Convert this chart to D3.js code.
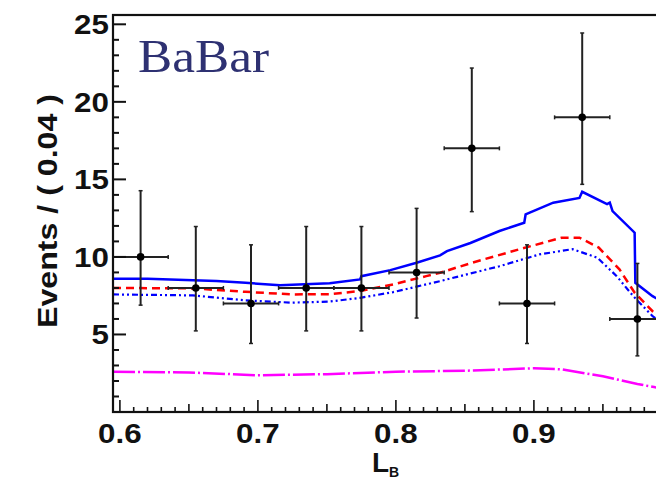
<!DOCTYPE html>
<html>
<head>
<meta charset="utf-8">
<script src="https://cdn.jsdelivr.net/npm/d3@7/dist/d3.min.js"></script>
<style>
  html, body { margin: 0; padding: 0; background: #fff; }
  svg { display: block; }
</style>
</head>
<body>
<script>
// ---- data ----
const binCenters = [0.615, 0.655, 0.695, 0.735, 0.775, 0.815, 0.855, 0.895, 0.935, 0.975];
const binHalfWidth = 0.02;
const counts = [10, 8, 7, 8, 8, 9, 17, 7, 19, 6];
const errLow = [3.11, 2.77, 2.58, 2.77, 2.77, 2.94, 4.08, 2.58, 4.32, 2.38];
const errHigh = [4.27, 3.96, 3.78, 3.96, 3.96, 4.13, 5.18, 3.78, 5.44, 3.58];

const totalX = [0.595, 0.62, 0.653, 0.67, 0.691, 0.716, 0.752, 0.774, 0.775, 0.796, 0.815, 0.832, 0.837, 0.854, 0.875, 0.893, 0.894, 0.914, 0.933, 0.935, 0.953, 0.955, 0.957, 0.973, 0.9735, 0.986, 0.995];
const totalY = [8.6, 8.6, 8.5, 8.45, 8.33, 8.18, 8.3, 8.55, 8.76, 9.15, 9.62, 10.1, 10.37, 10.9, 11.67, 12.2, 12.74, 13.5, 13.8, 14.2, 13.4, 13.5, 12.96, 11.56, 8.33, 7.47, 7.0];

const redX = [0.595, 0.653, 0.691, 0.725, 0.752, 0.774, 0.798, 0.822, 0.832, 0.855, 0.889, 0.92, 0.933, 0.947, 0.962, 0.973, 0.986, 0.995];
const redY = [8.0, 7.97, 7.75, 7.58, 7.6, 7.8, 8.23, 8.76, 8.98, 9.62, 10.48, 11.24, 11.24, 10.6, 9.2, 7.69, 6.5, 5.9];

const blueDotX = [0.595, 0.653, 0.691, 0.725, 0.752, 0.774, 0.798, 0.822, 0.832, 0.875, 0.904, 0.928, 0.946, 0.96, 0.972, 0.986, 0.995];
const blueDotY = [7.58, 7.52, 7.2, 7.05, 7.12, 7.36, 7.73, 8.23, 8.44, 9.4, 10.16, 10.5, 9.95, 8.76, 7.47, 6.18, 5.6];

const magX = [0.595, 0.65, 0.7, 0.75, 0.8, 0.85, 0.9, 0.92, 0.95, 0.975, 0.988, 0.995];
const magY = [2.6, 2.55, 2.37, 2.44, 2.6, 2.66, 2.82, 2.75, 2.3, 1.81, 1.59, 1.5];

const xTickLabels = [0.6, 0.7, 0.8, 0.9];
const yTickLabels = [5, 10, 15, 20, 25];

// ---- layout ----
const W = 656, H = 480;
const pLeft = 113, pRight = 665, pTop = 15, pBottom = 412;

const svg = d3.select("body").append("svg").attr("width", W).attr("height", H);

const x = d3.scaleLinear().domain([0.595, 0.995]).range([pLeft, pRight]);
const y = d3.scaleLinear().domain([0, 25.6]).range([pBottom, pTop]);

svg.append("defs").append("clipPath").attr("id", "plotclip")
  .append("rect").attr("x", pLeft).attr("y", pTop).attr("width", pRight - pLeft).attr("height", pBottom - pTop);

const plot = svg.append("g").attr("clip-path", "url(#plotclip)");

// curves
function drawCurve(xs, ys, color, dash, width) {
  const pts = xs.map((d, i) => [d, ys[i]]);
  plot.append("path")
    .datum(pts)
    .attr("fill", "none")
    .attr("stroke", color)
    .attr("stroke-width", width)
    .attr("stroke-dasharray", dash)
    .attr("d", d3.line().x(d => x(d[0])).y(d => y(d[1])));
}
drawCurve(magX, magY, "#ff00ff", "22,3,2,3", 2.5);
drawCurve(blueDotX, blueDotY, "#0000ff", "6,3,2,3,2,3", 2.2);
drawCurve(redX, redY, "#ff0000", "8,5", 2.5);
drawCurve(totalX, totalY, "#0000ff", null, 2.5);

// data points with error bars
const ptsG = plot.append("g");
binCenters.forEach((c, i) => {
  const g = ptsG.append("g");
  const cx = x(c), cy = y(counts[i]);
  g.append("line").attr("x1", x(c - binHalfWidth)).attr("x2", x(c + binHalfWidth))
    .attr("y1", cy).attr("y2", cy).attr("stroke", "#222").attr("stroke-width", 2);
  g.append("line").attr("x1", cx).attr("x2", cx)
    .attr("y1", y(counts[i] - errLow[i])).attr("y2", y(counts[i] + errHigh[i]))
    .attr("stroke", "#222").attr("stroke-width", 2);
  [counts[i] - errLow[i], counts[i] + errHigh[i]].forEach(v => {
    g.append("line").attr("x1", cx - 2).attr("x2", cx + 2).attr("y1", y(v)).attr("y2", y(v))
      .attr("stroke", "#222").attr("stroke-width", 1.5);
  });
  [c - binHalfWidth, c + binHalfWidth].forEach(v => {
    g.append("line").attr("x1", x(v)).attr("x2", x(v)).attr("y1", cy - 2).attr("y2", cy + 2)
      .attr("stroke", "#222").attr("stroke-width", 1.5);
  });
  g.append("circle").attr("cx", cx).attr("cy", cy).attr("r", 3.8).attr("fill", "#000");
});

// frame
const frame = svg.append("g").attr("stroke", "#111").attr("stroke-width", 2.2).attr("fill", "none");
frame.append("rect").attr("x", pLeft).attr("y", pTop).attr("width", pRight - pLeft).attr("height", pBottom - pTop);

// y ticks
const yMinor = d3.range(1, 26);
const ty = svg.append("g").attr("stroke", "#111").attr("stroke-width", 2);
yMinor.forEach(v => {
  const isMajor = v % 5 === 0;
  ty.append("line").attr("x1", pLeft).attr("x2", pLeft + (isMajor ? 13 : 6))
    .attr("y1", y(v)).attr("y2", y(v));
});
// x ticks
const xMinor = d3.range(60, 100).map(v => v / 100);
const tx = svg.append("g").attr("stroke", "#111").attr("stroke-width", 1.6);
xMinor.forEach(v => {
  const k = Math.round(v * 100);
  const len = k % 10 === 0 ? 12 : (k % 5 === 0 ? 8 : 5);
  tx.append("line").attr("x1", x(v)).attr("x2", x(v)).attr("y1", pBottom).attr("y2", pBottom - len);
});

// tick labels
const fontFam = "'Liberation Sans', Arial, Helvetica, sans-serif";
yTickLabels.forEach(v => {
  svg.append("text")
    .attr("transform", `translate(109,${y(v) + 10}) scale(1.12,1)`)
    .attr("text-anchor", "end")
    .attr("font-family", fontFam).attr("font-weight", "bold").attr("font-size", 28)
    .attr("fill", "#111")
    .text(v);
});
xTickLabels.forEach(v => {
  svg.append("text")
    .attr("transform", `translate(${x(v)},443) scale(1.12,1)`)
    .attr("text-anchor", "middle")
    .attr("font-family", fontFam).attr("font-weight", "bold").attr("font-size", 28)
    .attr("fill", "#111")
    .text(d3.format(".1f")(v));
});

// axis titles
svg.append("text")
  .attr("transform", "translate(57,211) rotate(-90)")
  .attr("text-anchor", "middle")
  .attr("font-family", fontFam).attr("font-weight", "bold").attr("font-size", 28)
  .attr("textLength", 234).attr("lengthAdjust", "spacingAndGlyphs")
  .attr("fill", "#111")
  .text("Events / ( 0.04 )");

const xt = svg.append("text")
  .attr("x", 372).attr("y", 472)
  .attr("font-family", fontFam).attr("font-weight", "bold").attr("font-size", 28)
  .attr("fill", "#111");
xt.append("tspan").text("L");
xt.append("tspan").attr("font-size", 14).attr("dy", 5).text("B");

// BaBar label
svg.append("text")
  .attr("x", 138).attr("y", 72)
  .attr("font-family", "'Liberation Serif', 'DejaVu Serif', serif")
  .attr("font-size", 46)
  .attr("textLength", 131).attr("lengthAdjust", "spacingAndGlyphs")
  .attr("fill", "#2e3172")
  .text("BaBar");
</script>
</body>
</html>
